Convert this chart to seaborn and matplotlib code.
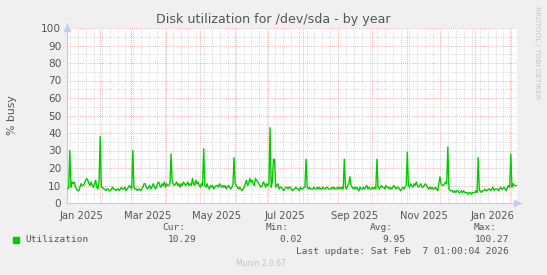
import numpy as np
import pandas as pd
import matplotlib
matplotlib.use("Agg")
import matplotlib.pyplot as plt
import matplotlib.dates as mdates
import matplotlib.transforms as mtransforms
import seaborn as sns

# ---------------- data ----------------
title = "Disk utilization for /dev/sda - by year"
ylabel = "% busy"
series_name = "Utilization"
start_time = "2025-01-03 01:00"
end_time = "2026-02-07 01:00"

# daily utilization (%) from 2025-01-03
utilization = (
    [8, 9, 30, 9, 12, 11, 12, 9, 8, 7, 7, 9, 11, 10, 10, 11, 13, 14, 13, 11, 10, 12, 10, 9, 11, 13, 9, 8, 12]
    + [38]
    + [9, 9, 8, 8, 7, 8, 8, 7, 7, 8, 9, 8, 8, 7, 8, 8, 7, 8, 9, 8, 8, 9, 7, 8, 9, 10, 9, 8]
    + [30]
    + [9, 8, 8, 7, 8, 8, 7, 8, 9, 11, 11, 9, 8, 9, 10, 8, 9, 11, 10, 8, 9, 11, 12, 10, 9, 11, 10, 12, 9, 11, 10, 10, 11]
    + [28]
    + [12, 11, 10, 11, 12, 10, 11, 9, 11, 10, 12, 11, 10, 11, 12, 10, 11, 10, 14, 11, 10, 13, 11, 12, 10, 9, 11, 10]
    + [31]
    + [10, 9, 11, 9, 8, 10, 9, 10, 8, 9, 10, 10, 9, 11, 10, 9, 10, 9, 10, 8, 9, 10, 9, 8, 9, 10]
    + [26]
    + [11, 10, 9, 8, 9, 8, 7, 8, 9, 11, 13, 10, 11, 14, 12, 13, 11, 10, 14, 13, 12, 11, 10, 9, 10, 12, 11, 9, 11, 10, 11]
    + [43]
    + [9, 12]
    + [25, 25]
    + [9, 10, 11, 8, 9, 9, 8, 7, 8, 9, 9, 8, 9, 9, 8, 7, 8, 8, 9, 8, 8, 7, 9, 8, 8, 9, 9]
    + [25]
    + [9, 8, 9, 8, 8, 8, 9, 8, 8, 9, 8, 9, 8, 8, 9, 8, 8, 9, 9, 8, 8, 8, 9, 8, 9, 8, 8, 9, 8, 9, 8, 9, 8]
    + [25]
    + [9, 8, 10, 11]
    + [15]
    + [10, 9, 8, 9, 8, 9, 8, 7, 9, 8, 8, 9, 8, 9, 10, 8, 9, 8, 8, 9, 8, 9, 8]
    + [25]
    + [9, 8, 9, 10, 9, 9, 8, 10, 9, 9, 8, 9, 8, 9, 10, 9, 8, 9, 9, 8, 7, 8, 9, 8, 9, 10]
    + [29]
    + [10, 9, 11, 10, 9, 11, 10, 12, 10, 9, 10, 11, 9, 9, 10, 11, 10, 9, 8, 9, 8, 9, 8, 8, 9, 8, 7, 11]
    + [15]
    + [11, 10, 10, 11, 12, 11]
    + [32]
    + [8, 7, 7, 7, 6, 7, 6, 7, 7, 6, 6, 7, 6, 7, 6, 6, 6, 5, 6, 6, 5, 6, 6, 6, 7, 6]
    + [26]
    + [7, 7, 6, 7, 7, 8, 7, 7, 8, 8, 7, 8, 9, 7, 8, 8, 8, 7, 8, 9, 8, 8, 9, 8, 7, 9, 10, 9]
    + [28]
    + [9, 11, 10, 10, 10]
)

x_label_months = ["2025-01-01", "2025-03-01", "2025-05-01", "2025-07-01",
                  "2025-09-01", "2025-11-01", "2026-01-01"]
x_label_texts = ["Jan 2025", "Mar 2025", "May 2025", "Jul 2025",
                 "Sep 2025", "Nov 2025", "Jan 2026"]
y_ticks = [0, 10, 20, 30, 40, 50, 60, 70, 80, 90, 100]

legend_headers = ["Cur:", "Min:", "Avg:", "Max:"]
legend_values = ["10.29", "0.02", "9.95", "100.27"]
last_update = "Last update: Sat Feb  7 01:00:04 2026"
footer = "Munin 2.0.67"
side_text = "RRDTOOL / TOBI OETIKER"

# ---------------- figure ----------------
sns.set_theme(style="white")
plt.rcParams["font.family"] = ["DejaVu Sans"]

W, H = 547, 275
fig = plt.figure(figsize=(W / 100, H / 100), dpi=100, facecolor="#F0F0F0")
L, R, T, B = 67, 517, 28, 203
ax = fig.add_axes([L / W, 1 - B / H, (R - L) / W, (B - T) / H])
ax.set_facecolor("white")

t0 = pd.Timestamp(start_time)
t1 = pd.Timestamp(end_time)
dates = t0 + pd.to_timedelta(np.arange(len(utilization)) + 0.5, unit="D")
df = pd.DataFrame({"date": dates, "util": utilization})

sns.lineplot(data=df, x="date", y="util", ax=ax, color="#00CC00", linewidth=1.0, zorder=5)

ax.set_xlim(t0, t1)
ax.set_ylim(0, 100)

# grids
ax.xaxis.set_major_locator(mdates.MonthLocator())
ax.xaxis.set_minor_locator(mdates.WeekdayLocator(byweekday=mdates.MO))
ax.set_yticks(y_ticks)
ax.set_yticks(np.arange(5, 100, 10), minor=True)
ax.grid(which="major", axis="both", color="#EE9A9A", linestyle=(0, (1, 1.5)), linewidth=0.6)
ax.grid(which="minor", axis="both", color="#CCCCCC", linestyle=(0, (1, 1.5)), linewidth=0.6)
ax.set_axisbelow(True)

ax.xaxis.set_major_formatter(plt.NullFormatter())
ax.tick_params(axis="x", which="both", length=0)
ax.tick_params(axis="y", which="major", length=2, color="#BBBBBB", labelsize=7.6,
               labelcolor="#555555", pad=2)
ax.tick_params(axis="y", which="minor", length=0)

for s in ["top", "right"]:
    ax.spines[s].set_visible(False)
for s in ["left", "bottom"]:
    ax.spines[s].set_color("#C8C8F0")
    ax.spines[s].set_linewidth(0.8)

# axis arrows
ax.plot([0], [1.0], marker="^", markersize=4, color="#C8C8F0", transform=ax.transAxes,
        clip_on=False, zorder=6)
ax.plot([1.0], [0], marker=">", markersize=4, color="#C8C8F0", transform=ax.transAxes,
        clip_on=False, zorder=6)
ax.plot([0, 0], [1.0, 1.03], color="#C8C8F0", lw=0.8, transform=ax.transAxes, clip_on=False)
ax.plot([1.0, 1.01], [0, 0], color="#C8C8F0", lw=0.8, transform=ax.transAxes, clip_on=False)

# x labels centered mid-month
trans = mtransforms.blended_transform_factory(ax.transData, ax.transAxes)
for m, txt in zip(x_label_months, x_label_texts):
    xm = mdates.date2num(pd.Timestamp(m) + pd.Timedelta(days=15))
    ax.text(xm, -0.045, txt, transform=trans, ha="center", va="top",
            fontsize=7.2, color="#555555")

ax.set_xlabel("")
ax.set_ylabel("")
fig.text(12 / W, 1 - 115 / H, ylabel, rotation=90, ha="center", va="center",
         fontsize=7.8, color="#555555")

fig.text(273.5 / W, 1 - 19 / H, title, ha="center", va="center", fontsize=9.1, color="#555555")
fig.text(537 / W, 1 - 52 / H, side_text, rotation=270, ha="center", va="center",
         fontsize=5.2, color="#C4C4C4")

# legend area (monospace)
mono = dict(family="DejaVu Sans Mono", fontsize=6.8, color="#555555")
hdr_x = [185, 289, 393, 497]
for hx, h in zip(hdr_x, legend_headers):
    fig.text(hx / W, 1 - 228 / H, h, ha="right", va="center", **mono)
fig.patches.append(plt.Rectangle((13 / W, 1 - 243 / H), 6 / W, 6 / H,
                                 transform=fig.transFigure, color="#00CC00"))
fig.text(25 / W, 1 - 240 / H, series_name, ha="left", va="center", **mono)
val_x = [197, 302, 405, 509]
for vx, v in zip(val_x, legend_values):
    fig.text(vx / W, 1 - 240 / H, v, ha="right", va="center", **mono)
fig.text(509 / W, 1 - 251 / H, last_update, ha="right", va="center", **mono)
fig.text(261 / W, 1 - 264 / H, footer, ha="center", va="center", fontsize=5.5, color="#C0C0C0")

fig.savefig("out.png", dpi=100, facecolor=fig.get_facecolor())
